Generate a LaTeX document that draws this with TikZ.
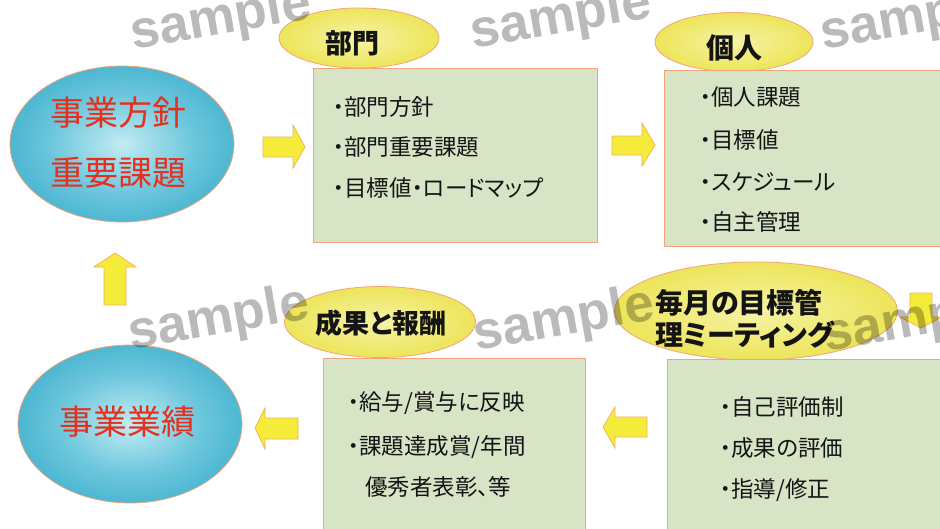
\documentclass[tikz,border=0pt]{standalone}
\usepackage{fontspec}
\newfontfamily\jp[RawFeature=+palt]{Noto Sans CJK JP}
\newfontfamily\wmfont{Liberation Sans}
\usetikzlibrary{shapes.geometric}
\definecolor{tealin}{HTML}{C2ECF3}
\definecolor{tealmid}{HTML}{6CC6DC}
\definecolor{tealout}{HTML}{1A9EC2}
\definecolor{yelin}{HTML}{F6F3A6}
\definecolor{yelout}{HTML}{EBE24A}
\definecolor{boxfill}{HTML}{D7E4C6}
\definecolor{edgecol}{HTML}{F2A47A}
\definecolor{arrfill}{HTML}{F5EC3A}
\definecolor{arredge}{HTML}{F3B25C}
\definecolor{redtext}{HTML}{E5301F}
\definecolor{ink}{HTML}{141414}
\pgfdeclareradialshading{tealball}{\pgfpoint{0bp}{0bp}}{color(0bp)=(tealin); color(16bp)=(tealmid); color(40bp)=(tealout); color(50bp)=(tealout)}
\pgfdeclareradialshading{yelball}{\pgfpoint{0bp}{0bp}}{color(0bp)=(yelin); color(30bp)=(yelout); color(50bp)=(yelout)}
\tikzset{
  bigell/.style={ellipse, inner sep=0pt, draw=edgecol, line width=0.8pt, shading=tealball, shade},
  titleell/.style={ellipse, inner sep=0pt, draw=edgecol, line width=0.8pt, shading=yelball, shade},
  infobox/.style={rectangle, inner sep=0pt, draw=edgecol, line width=1pt, fill=boxfill, anchor=north west},
  redtxt/.style={text=redtext, font=\jp\fontsize{34}{40}\selectfont, inner sep=0pt},
  titletxt/.style={text=ink, font=\jp\bfseries\fontsize{27}{32}\selectfont, inner sep=0pt},
  itemtxt/.style={text=ink, font=\jp\fontsize{22.5}{27}\selectfont, inner sep=0pt, anchor=west},
  blockarr/.style={fill=arrfill, draw=arredge, line width=0.8pt, line join=miter},
  wmark/.style={text=black, text opacity=0.27, font=\wmfont\bfseries\fontsize{53}{53}\selectfont, inner sep=0pt, anchor=base west, rotate=10}
}
\begin{document}
\begin{tikzpicture}[x=1pt, y=-1pt]
\useasboundingbox (0,0) rectangle (940,528);
\clip (0,0) rectangle (940,528);
\fill[white] (0,0) rectangle (940,528);

% big ellipses
\node[bigell, minimum width=224pt, minimum height=156pt] (policy) at (122,144) {};
\node[redtxt] (policy1) at (118,113) {事業方針};
\node[redtxt] (policy2) at (118,173) {重要課題};
\node[bigell, minimum width=224pt, minimum height=158pt] (perf) at (130,424) {};
\node[redtxt] (perf1) at (127,422) {事業業績};

% title ellipses
\node[titleell, minimum width=160pt, minimum height=60pt] (deptell) at (359,38) {};
\node[titleell, minimum width=158pt, minimum height=59pt] (indell) at (734,42) {};
\node[titleell, minimum width=191pt, minimum height=71pt] (resell) at (380,322) {};
\node[titleell, minimum width=283pt, minimum height=98pt] (mtgell) at (756,311) {};

% boxes
\node[infobox, minimum width=284pt, minimum height=174pt] (dept) at (313,68) {};
\node[infobox, minimum width=300pt, minimum height=176pt] (ind) at (664,70) {};
\node[infobox, minimum width=262pt, minimum height=200pt] (res) at (323,358) {};
\node[infobox, minimum width=300pt, minimum height=200pt] (mtg) at (667,359) {};

% titles
\node[titletxt] (deptt) at (352,43) {部門};
\node[titletxt, font=\jp\bfseries\fontsize{28}{32}\selectfont] (indt) at (734,48) {個人};
\node[titletxt] (rest) at (381,323) {成果と報酬};
\node[titletxt, anchor=west, font=\jp\bfseries\fontsize{28}{32}\selectfont] (mtgt1) at (655,303) {毎月の目標管};
\node[titletxt, anchor=west, font=\jp\bfseries\fontsize{28}{32}\selectfont] (mtgt2) at (655,335) {理ミーティング};

% items
\node[itemtxt] (d1) at (333,107) {・部門方針};
\node[itemtxt] (d2) at (333,147) {・部門重要課題};
\node[itemtxt] (d3) at (333,188) {・目標値・ロードマップ};
\node[itemtxt] (i1) at (700,97) {・個人課題};
\node[itemtxt] (i2) at (700,140) {・目標値};
\node[itemtxt] (i3) at (700,182) {・スケジュール};
\node[itemtxt] (i4) at (700,222) {・自主管理};
\node[itemtxt] (r1) at (348,403) {・給与/賞与に反映};
\node[itemtxt] (r2) at (348,447) {・課題達成賞/年間};
\node[itemtxt] (r3) at (365,487) {優秀者表彰、等};
\node[itemtxt] (m1) at (720,407) {・自己評価制};
\node[itemtxt] (m2) at (720,448) {・成果の評価};
\node[itemtxt] (m3) at (720,490) {・指導/修正};

% block arrows
\draw[blockarr] (263,137) -- (293,137) -- (293,125) -- (305,147) -- (293,168) -- (293,157) -- (263,157) -- cycle;
\draw[blockarr] (612,136) -- (642,136) -- (642,123) -- (655,145) -- (642,166) -- (642,155) -- (612,155) -- cycle;
\draw[blockarr] (104,305) -- (104,267) -- (94,267) -- (115,253) -- (136,267) -- (126,267) -- (126,305) -- cycle;
\draw[blockarr] (910,293) -- (932,293) -- (932,317) -- (942,317) -- (921,328) -- (900,317) -- (910,317) -- cycle;
\draw[blockarr] (298,418) -- (265,418) -- (265,408) -- (255,428) -- (265,449) -- (265,439) -- (298,439) -- cycle;
\draw[blockarr] (647,417) -- (615,417) -- (615,407) -- (603,427) -- (615,448) -- (615,437) -- (647,437) -- cycle;

% watermarks
\node[wmark] (wm1) at (133,50) {sample};
\node[wmark] (wm2) at (473,49) {sample};
\node[wmark] (wm3) at (823,50) {sample};
\node[wmark] (wm4) at (131,350) {sample};
\node[wmark] (wm5) at (476,351) {sample};
\node[wmark] (wm6) at (826,352) {sample};
\end{tikzpicture}
\end{document}
